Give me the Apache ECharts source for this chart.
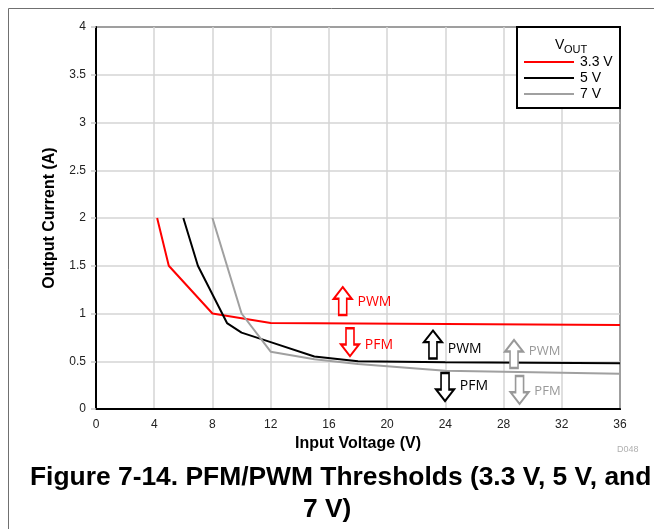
<!DOCTYPE html>
<html>
<head>
<meta charset="utf-8">
<script src="https://cdn.jsdelivr.net/npm/echarts@6/dist/echarts.min.js"></script>
<style>
html,body{margin:0;padding:0;background:#fff;}
#chart{width:654px;height:529px;}
</style>
</head>
<body>
<div id="chart"></div>
<script>
// ---- data ----
const xTicks = [0, 4, 8, 12, 16, 20, 24, 28, 32, 36];
const yTicks = [0, 0.5, 1, 1.5, 2, 2.5, 3, 3.5, 4];
const seriesNames = ['3.3 V', '5 V', '7 V'];
const vin33 = [4.2, 5, 8, 12, 24, 36];
const iout33 = [2, 1.5, 1.0, 0.9, 0.89, 0.88];
const vin5 = [6, 7, 9, 10, 12, 15, 18, 24, 36];
const iout5 = [2, 1.5, 0.9, 0.8, 0.7, 0.55, 0.5, 0.49, 0.48];
const vin7 = [8, 10, 12, 15, 18, 24, 36];
const iout7 = [2, 1.0, 0.6, 0.52, 0.47, 0.4, 0.37];
// threshold annotation arrows (data coords): [x, y, direction, text]
const notes33 = [[16.95, 1.13, 'up', 'PWM'], [17.45, 0.70, 'down', 'PFM']];
const notes5 = [[23.15, 0.675, 'up', 'PWM'], [23.98, 0.23, 'down', 'PFM']];
const notes7 = [[28.72, 0.576, 'up', 'PWM'], [29.1, 0.20, 'down', 'PFM']];

const colors = ['#ff0000', '#000000', '#a0a0a0'];
const FONT = '"Liberation Sans", Arial, sans-serif';
const UP = 'path://M9,0 L18,12 L13,12 L13,29 L5,29 L5,12 L0,12 Z';
const DOWN = 'path://M5,0 L13,0 L13,17 L18,17 L9,29 L0,17 L5,17 Z';

function pairs(xs, ys) { return xs.map((x, i) => [x, ys[i]]); }
function marks(notes, color, fs, dys) {
  return {
    silent: true,
    animation: false,
    data: notes.map((n, i) => ({
      coord: [n[0], n[1]],
      symbol: n[2] === 'up' ? UP : DOWN,
      symbolSize: [18, 28],
      itemStyle: { color: '#fff', borderColor: color, borderWidth: 2 },
      label: {
        show: true, position: 'right', distance: 5, offset: [0, dys[i]],
        formatter: n[3], color: color, fontSize: fs, fontFamily: '"Open Sans", sans-serif'
      }
    }))
  };
}

const chart = echarts.init(document.getElementById('chart'), null, { renderer: 'canvas' });
const axisLabelStyle = { color: '#222', fontSize: 12, fontFamily: FONT };
chart.setOption({
  animation: false,
  backgroundColor: '#fff',
  grid: { left: 96, right: 34, top: 27, bottom: 120, show: true, borderColor: '#000', borderWidth: 2, containLabel: false },
  xAxis: {
    type: 'value', min: 0, max: 36, interval: 4,
    name: 'Input Voltage (V)', nameLocation: 'middle', nameGap: 24,
    nameTextStyle: { fontSize: 16, fontWeight: 'bold', color: '#000', fontFamily: FONT },
    axisLine: { show: true, lineStyle: { color: '#000', width: 2 } },
    axisTick: { show: false },
    axisLabel: Object.assign({ margin: 10 }, axisLabelStyle),
    splitLine: { show: true, lineStyle: { color: '#d4d4d4', width: 1.5 } }
  },
  yAxis: {
    type: 'value', min: 0, max: 4, interval: 0.5,
    name: 'Output Current (A)', nameLocation: 'middle', nameGap: 38,
    nameTextStyle: { fontSize: 16, fontWeight: 'bold', color: '#000', fontFamily: FONT },
    axisLine: { show: true, lineStyle: { color: '#000', width: 2 } },
    axisTick: { show: true, length: 5, lineStyle: { color: '#c8c8c8', width: 1.5 } },
    axisLabel: Object.assign({ margin: 10, formatter: v => String(v) }, axisLabelStyle),
    splitLine: { show: true, lineStyle: { color: '#d4d4d4', width: 1.5 } }
  },
  legend: {
    orient: 'vertical', left: 524, top: 55, padding: 0, z: 30,
    itemWidth: 50, itemHeight: 14, itemGap: 2,
    icon: 'path://M0,6 L50,6 L50,8 L0,8 Z',
    textStyle: { fontSize: 14, color: '#000', fontFamily: FONT, padding: [0, 0, 0, 1] },
    data: seriesNames
  },
  series: [
    { name: seriesNames[0], type: 'line', data: pairs(vin33, iout33), showSymbol: false, symbol: 'none',
      lineStyle: { color: colors[0], width: 2 }, itemStyle: { color: colors[0] }, markPoint: marks(notes33, colors[0], 14, [1, 3]) },
    { name: seriesNames[1], type: 'line', data: pairs(vin5, iout5), showSymbol: false, symbol: 'none',
      lineStyle: { color: colors[1], width: 2 }, itemStyle: { color: colors[1] }, markPoint: marks(notes5, colors[1], 14, [4, -1]) },
    { name: seriesNames[2], type: 'line', data: pairs(vin7, iout7), showSymbol: false, symbol: 'none',
      lineStyle: { color: colors[2], width: 2 }, itemStyle: { color: colors[2] }, markPoint: marks(notes7, '#999', 13, [-3, 1]) }
  ],
  graphic: [
    { type: 'rect', silent: true, z: -1, shape: { x: 8.5, y: 8.5, width: 700, height: 600 },
      style: { fill: 'none', stroke: '#707070', lineWidth: 1 } },
    { type: 'rect', silent: true, z: 10, shape: { x: 517, y: 27, width: 103, height: 81 },
      style: { fill: '#fff', stroke: '#000', lineWidth: 2 } },
    { type: 'text', silent: true, z: 11, left: 555, top: 38,
      style: { text: 'V', fontSize: 14, fill: '#000', fontFamily: FONT } },
    { type: 'text', silent: true, z: 11, left: 564, top: 44,
      style: { text: 'OUT', fontSize: 11, fill: '#000', fontFamily: FONT } },
    { type: 'text', silent: true, left: 617, top: 445,
      style: { text: 'D048', fontSize: 9, fill: '#b0b0b0', fontFamily: FONT } },
    { type: 'text', silent: true, left: 30, top: 465,
      style: { text: 'Figure 7-14. PFM/PWM Thresholds (3.3 V, 5 V, and', fontSize: 26.4, fontWeight: 'bold', fill: '#000', fontFamily: FONT } },
    { type: 'text', silent: true, left: 303, top: 497,
      style: { text: '7 V)', fontSize: 26.4, fontWeight: 'bold', fill: '#000', fontFamily: FONT } }
  ]
});
</script>
</body>
</html>
